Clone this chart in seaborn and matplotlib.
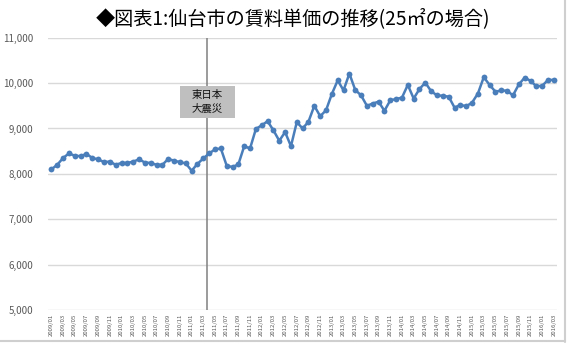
import matplotlib
matplotlib.use("Agg")
import matplotlib.pyplot as plt
import seaborn as sns
import pandas as pd
import numpy as np
from matplotlib.patches import Rectangle
from matplotlib.lines import Line2D

# ---- data ----
months = [f"{y}/{m:02d}" for y in range(2009, 2017) for m in range(1, 13)][:87]
rent = [8100, 8200, 8350, 8450, 8400, 8390, 8440, 8350, 8320, 8260,
        8270, 8200, 8240, 8240, 8270, 8320, 8250, 8240, 8200, 8200,
        8330, 8290, 8260, 8230, 8070, 8220, 8340, 8450, 8540, 8560,
        8180, 8150, 8210, 8610, 8560, 8990, 9070, 9160, 8960, 8730,
        8920, 8610, 9140, 9000, 9150, 9500, 9270, 9400, 9760, 10060,
        9840, 10210, 9850, 9730, 9500, 9550, 9590, 9390, 9620, 9650,
        9680, 9960, 9660, 9870, 10010, 9820, 9730, 9720, 9700, 9460,
        9520, 9490, 9570, 9770, 10130, 9960, 9810, 9840, 9830, 9730,
        9970, 10120, 10050, 9930, 9940, 10070, 10070]
yticks = [5000, 6000, 7000, 8000, 9000, 10000, 11000]
title = "◆図表1:仙台市の賃料単価の推移(25㎡の場合)"
event_label = "東日本\n大震災"
event_pos = 26.7  # just after 2011/03

df = pd.DataFrame({"idx": np.arange(len(rent)), "month": months, "rent": rent})

sns.set_theme(style="white")
plt.rcParams['font.family'] = ['Noto Sans CJK JP', 'DejaVu Sans']

fig = plt.figure(figsize=(5.67, 3.45), dpi=100)
ax = fig.add_axes([0.0855, 0.1014, 0.982 - 0.0855, 0.8907 - 0.1014])

for v in yticks:
    ax.axhline(v, color="#d9d9d9", lw=1.0, zorder=0)

ax.axvline(event_pos, color="#808080", lw=1.1, zorder=1)

sns.lineplot(data=df, x="idx", y="rent", ax=ax, color="#4a7ebb", lw=1.8,
             marker="o", markersize=4.2, markeredgewidth=0, zorder=3)

# annotation box
bw = 4.7
ax.add_patch(Rectangle((event_pos - bw, 9223), 2 * bw, 712, facecolor="#bfbfbf",
                       edgecolor="none", zorder=2))
ax.text(event_pos, 9579, event_label, ha="center", va="center", fontsize=7.5,
        color="#111111", linespacing=1.4, zorder=4)

ax.set_xlim(-0.5, len(rent) - 0.5)
ax.set_ylim(5000, 11000)
ax.set_yticks(yticks)
ax.set_yticklabels([f"{v:,}" for v in yticks], fontsize=7, color="#595959")
ax.set_xticks(df["idx"][::2])
ax.set_xticklabels(df["month"][::2], rotation=90, fontsize=4.3, color="#595959")
ax.tick_params(axis="y", length=0, pad=11)
ax.tick_params(axis="x", length=0, pad=2.5)
ax.set_xlabel("")
ax.set_ylabel("")
for s in ax.spines.values():
    s.set_visible(False)

fig.text(0.517, 0.945, title, ha="center", va="center", fontsize=13.8,
         fontweight="normal", color="#000000")

# frame shadow lines (right & bottom)
fig.add_artist(Line2D([0.9965, 0.9965], [0.01, 1.0], transform=fig.transFigure,
                      color="#cfcfcf", lw=1.5))
fig.add_artist(Line2D([0.0, 0.9965], [0.013, 0.013], transform=fig.transFigure,
                      color="#cfcfcf", lw=1.5))

fig.savefig("out.png", dpi=100, facecolor="white")
